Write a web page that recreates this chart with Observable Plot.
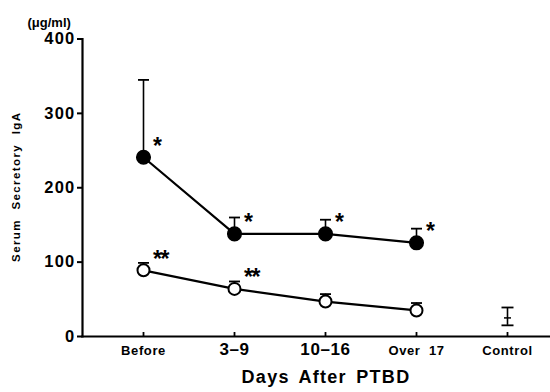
<!DOCTYPE html>
<html><head><meta charset="utf-8">
<script src="https://cdn.jsdelivr.net/npm/d3@7"></script>
<script src="https://cdn.jsdelivr.net/npm/@observablehq/plot@0.6"></script>
<style>
body{margin:0;background:#fff}
svg text{fill:#000}
</style>
</head><body><div id="chart"></div>
<script>
const categories = ["Before", "3-9", "10-16", "Over 17", "Control"];
const groups = ["Before", "3-9", "10-16", "Over 17"];
const filledMean = [241, 138, 138, 126];
const filledUpper = [345, 160, 157, 145];
const filledMark = ["*", "*", "*", "*"];
const openMean = [89, 64, 47, 35];
const openUpper = [99, 74, 57, 45];
const openMark = ["**", "**", "", ""];
const controlMean = [25];
const controlUpper = [39];
const controlLower = [15];
const yTicks = [0, 100, 200, 300, 400];
const tickLabels = ["Before", "3\u20139", "10\u201316", "Over  17", "Control"];
const xTitle = "Days After PTBD";
const yTitle = "Serum Secretory IgA";
const unitLabel = "(\u03bcg/ml)";

const filled = groups.map((g, i) => ({cat: g, mean: filledMean[i], upper: filledUpper[i], mark: filledMark[i]}));
const open = groups.map((g, i) => ({cat: g, mean: openMean[i], upper: openUpper[i], mark: openMark[i]}));
const control = [{cat: "Control", mean: controlMean[0], upper: controlUpper[0], lower: controlLower[0]}];
const labels = categories.map((c, i) => ({cat: c, label: tickLabels[i]}));

const capSymbol = w => ({draw(ctx) { ctx.moveTo(-w, 0); ctx.lineTo(w, 0); }});
const font = "'Liberation Sans', Arial, sans-serif";

const chart = Plot.plot({
  width: 550, height: 392,
  marginLeft: 82, marginRight: 0, marginTop: 38.5, marginBottom: 56,
  style: {fontFamily: font, fontWeight: "bold", color: "#000", background: "#fff"},
  x: {type: "point", domain: categories, range: [143, 507], padding: 0, label: null},
  y: {domain: [0, 400], label: null},
  marks: [
    Plot.frame({anchor: "left", strokeWidth: 2.2}),
    Plot.frame({anchor: "bottom", strokeWidth: 2.2}),
    Plot.axisY({ticks: yTicks, tickSize: 5, tickPadding: 2, fontSize: 16.5, strokeWidth: 2, label: null}),
    Plot.axisX({tickSize: -4, text: null, strokeWidth: 1.8, label: null}),
    Plot.text(labels, {x: "cat", text: "label", frameAnchor: "bottom", dy: 18,
      fontSize: (d, i) => (i === 1 || i === 2 ? 17 : 13), fontWeight: "bold", fill: "#000"}),
    Plot.text([xTitle], {frameAnchor: "bottom", textAnchor: "middle", dx: 9.5, dy: 46, fontSize: 18, fontWeight: "bold", fill: "#000", text: d => d}),
    Plot.text([yTitle], {frameAnchor: "left", textAnchor: "middle", dx: -66, dy: -1, rotate: -90, fontSize: 11.5, fontWeight: "bold", fill: "#000", text: d => d}),
    Plot.text([unitLabel], {frameAnchor: "top-left", dx: -55, dy: -21, textAnchor: "start", fontSize: 13, fontWeight: "bold", fill: "#000", text: d => d}),
    // error bars
    Plot.ruleX(filled, {x: "cat", y1: "mean", y2: "upper", strokeWidth: 1.6}),
    Plot.dot(filled, {x: "cat", y: "upper", symbol: capSymbol(5.5), r: 5, stroke: "#000", strokeWidth: 1.8}),
    Plot.ruleX(open, {x: "cat", y1: "mean", y2: "upper", strokeWidth: 1.6}),
    Plot.dot(open, {x: "cat", y: "upper", symbol: capSymbol(5.5), r: 5, stroke: "#000", strokeWidth: 1.8}),
    Plot.ruleX(control, {x: "cat", y1: "lower", y2: "upper", strokeWidth: 1.6}),
    Plot.dot(control, {x: "cat", y: "upper", symbol: capSymbol(6), r: 5, stroke: "#000", strokeWidth: 1.8}),
    Plot.dot(control, {x: "cat", y: "lower", symbol: capSymbol(6), r: 5, stroke: "#000", strokeWidth: 1.8}),
    Plot.dot(control, {x: "cat", y: "mean", symbol: capSymbol(3.5), r: 5, stroke: "#000", strokeWidth: 1.5}),
    // lines
    Plot.line(filled, {x: "cat", y: "mean", strokeWidth: 2.2}),
    Plot.line(open, {x: "cat", y: "mean", strokeWidth: 2.2}),
    Plot.dot(filled, {x: "cat", y: "mean", r: 6.8, fill: "#000", stroke: "#000"}),
    Plot.dot(open, {x: "cat", y: "mean", r: 6, fill: "#fff", stroke: "#000", strokeWidth: 2}),
    // significance marks
    Plot.text(filled, {x: "cat", y: "mean", text: "mark", dx: 14, dy: -11, fontSize: 23, fontWeight: "bold", fill: "#000"}),
    Plot.text(open, {x: "cat", y: "mean", text: "mark", dx: 17, dy: -11, fontSize: 23, fontWeight: "bold", fill: "#000"})
  ]
});
// typographic spacing to mimic the wide typeface of the original
d3.select(chart).selectAll("text").each(function() {
  const t = this.textContent;
  const s = d3.select(this);
  if (yTicks.map(String).includes(t)) s.style("letter-spacing", "1.2px");
  else if (tickLabels.includes(t)) s.style("letter-spacing", "0.6px");
  else if (t === xTitle) s.style("letter-spacing", "1.3px").style("word-spacing", "3px");
  else if (t === yTitle) s.style("letter-spacing", "1.4px").style("word-spacing", "5px");
  else if (t === "**") s.style("letter-spacing", "-1.5px");
});
document.getElementById("chart").appendChild(chart);
</script>
</body></html>
